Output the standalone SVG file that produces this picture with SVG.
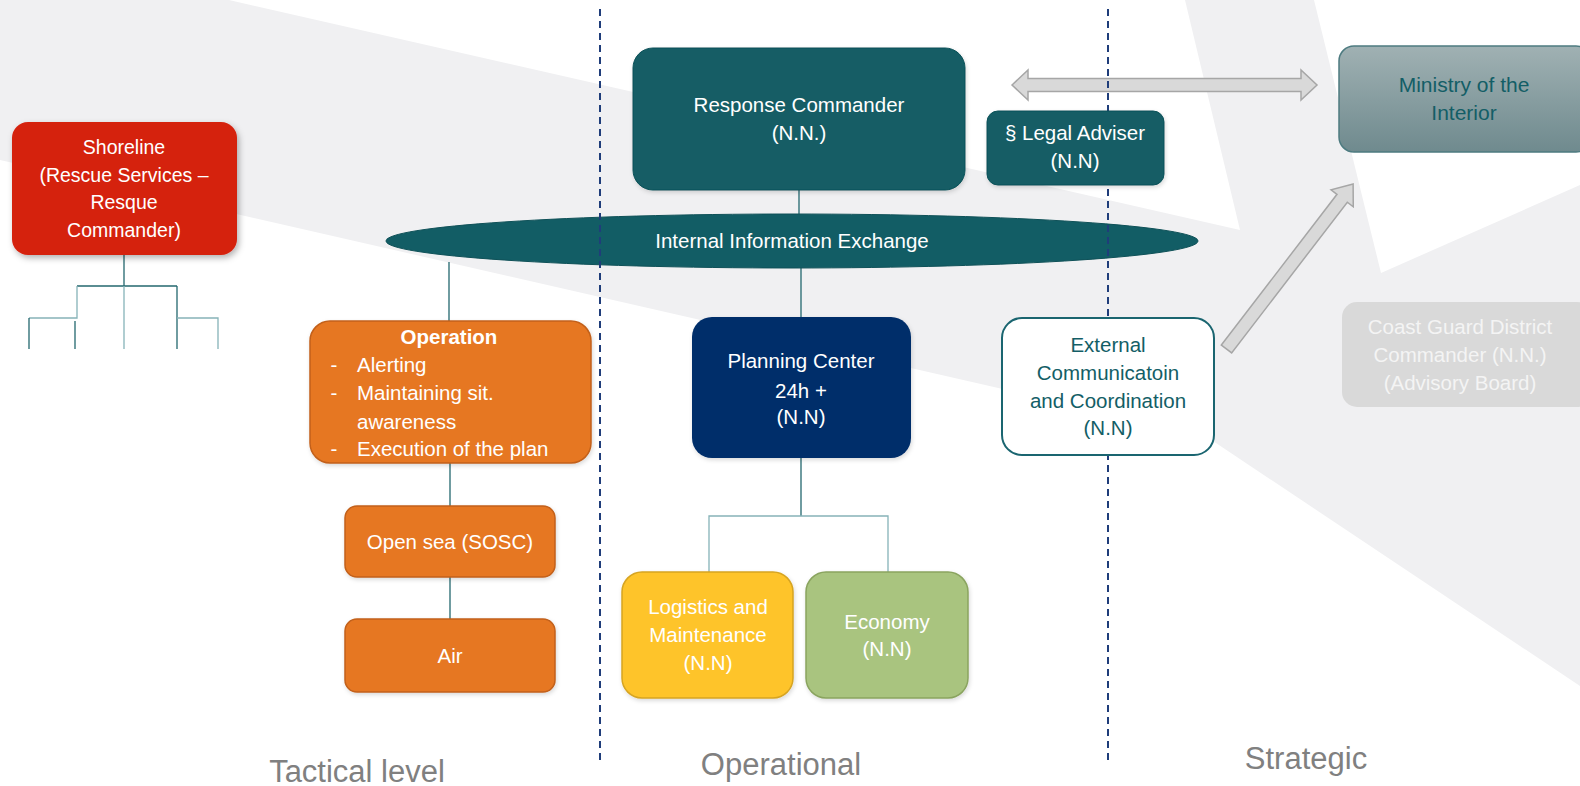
<svg xmlns="http://www.w3.org/2000/svg" width="1580" height="786" viewBox="0 0 1580 786">
<defs>
<linearGradient id="minGrad" x1="0" y1="0" x2="0" y2="1">
<stop offset="0" stop-color="#a0b1b3"/>
<stop offset="1" stop-color="#6f8a8e"/>
</linearGradient>
<filter id="shadow" x="-10%" y="-10%" width="125%" height="130%">
<feDropShadow dx="2" dy="3" stdDeviation="3" flood-color="#000" flood-opacity="0.3"/>
</filter>
<filter id="soft" x="-10%" y="-10%" width="125%" height="130%">
<feDropShadow dx="1" dy="2" stdDeviation="2" flood-color="#000" flood-opacity="0.15"/>
</filter>
</defs>
<style>
text{font-family:"Liberation Sans",Arial,sans-serif;font-size:20.5px;text-anchor:middle}
.w{fill:#ffffff}
.t{fill:#135e66}
.lvl{fill:#808080;font-size:31px}
.conn{stroke:#23676e;stroke-width:1.3;fill:none}
.connl{stroke:#86b3b8;stroke-width:1.3;fill:none}
.dash{stroke:#1f3d7a;stroke-width:2;stroke-dasharray:7 5;fill:none}
.arrow{fill:#d9d9d9;stroke:#a6a6a6;stroke-width:1.5}
.teal{fill:#125d65;stroke:#0f5158;stroke-width:1}
.orange{fill:#e67722;stroke:#c2601a;stroke-width:1.5}
</style>
<rect width="1580" height="786" fill="#ffffff"/>
<polygon points="0,0 229,0 1240,230 1185,0 1314,0 1381,273 1580,185 1580,686 1204,435 0,160" fill="#f0f0f2"/>

<g id="connectors">
<line class="conn" x1="124" y1="255" x2="124" y2="286"/>
<line class="conn" x1="77" y1="286" x2="177" y2="286"/>
<line class="connl" x1="124" y1="286" x2="124" y2="349"/>
<polyline class="connl" points="77,286 77,318 29,318"/>
<line class="conn" x1="29" y1="318" x2="29" y2="349"/>
<line class="conn" x1="75" y1="321" x2="75" y2="349"/>
<line class="conn" x1="177" y1="286" x2="177" y2="349"/>
<polyline class="connl" points="177,318 218,318 218,349"/>
<line class="conn" x1="799" y1="190" x2="799" y2="216"/>
<line class="conn" x1="449" y1="262" x2="449" y2="321"/>
<line class="conn" x1="450" y1="463" x2="450" y2="506"/>
<line class="conn" x1="450" y1="577" x2="450" y2="619"/>
<line class="conn" x1="801" y1="267" x2="801" y2="317"/>
<line class="conn" x1="801" y1="458" x2="801" y2="516"/>
<polyline class="connl" points="709,572 709,516 888,516 888,572"/>
</g>

<g id="internal-exchange">
<ellipse cx="792" cy="241" rx="406" ry="27" class="teal"/>
<text x="792" y="248" class="w">Internal Information Exchange</text>
</g>

<g id="arrows">
<polygon class="arrow" points="1012,85 1028,70 1028,78.5 1301,78.5 1301,70 1317,85 1301,100 1301,91.5 1028,91.5 1028,100"/>
<g transform="translate(1226.5,349) rotate(-52.5)">
<polygon class="arrow" points="0,-6.5 190,-6.5 190,-14 208,0 190,14 190,6.5 0,6.5"/>
</g>
</g>

<g id="level-dividers">
<line class="dash" x1="600" y1="9" x2="600" y2="763"/>
<line class="dash" x1="1108" y1="9" x2="1108" y2="763"/>
</g>

<g id="shoreline">
<rect x="12" y="122" width="225" height="133" rx="16" fill="#d5220f" filter="url(#shadow)"/>
<text x="124" y="154" class="w" style="font-size:19.5px">Shoreline</text>
<text x="124" y="182" class="w" style="font-size:19.5px">(Rescue Services –</text>
<text x="124" y="209" class="w" style="font-size:19.5px">Resque</text>
<text x="124" y="237" class="w" style="font-size:19.5px">Commander)</text>
</g>

<g id="response-commander">
<rect x="633" y="48" width="332" height="142" rx="20" class="teal" filter="url(#soft)"/>
<text x="799" y="112" class="w">Response Commander</text>
<text x="799" y="140" class="w">(N.N.)</text>
</g>

<g id="legal-adviser">
<rect x="987" y="111" width="177" height="74" rx="11" class="teal" filter="url(#soft)"/>
<text x="1075" y="140" class="w">§ Legal Adviser</text>
<text x="1075" y="168" class="w">(N.N)</text>
</g>

<g id="ministry">
<rect x="1339" y="46" width="252" height="106" rx="15" fill="url(#minGrad)" stroke="#4d7b80" stroke-width="1.5"/>
<text x="1464" y="92" class="t" style="font-size:21px">Ministry of the</text>
<text x="1464" y="120" class="t" style="font-size:21px">Interior</text>
</g>

<g id="coast-guard">
<rect x="1342" y="302" width="250" height="105" rx="15" fill="#d9d9d9"/>
<text x="1460" y="334" fill="#f4f4f4">Coast Guard District</text>
<text x="1460" y="362" fill="#f4f4f4">Commander (N.N.)</text>
<text x="1460" y="390" fill="#f4f4f4">(Advisory Board)</text>
</g>

<g id="operation">
<rect x="310" y="321" width="281" height="142" rx="20" class="orange" filter="url(#soft)"/>
<text x="449" y="344" class="w" style="font-weight:bold">Operation</text>
<text x="334" y="372" class="w">-</text>
<text x="357" y="372" class="w" style="text-anchor:start">Alerting</text>
<text x="334" y="400" class="w">-</text>
<text x="357" y="400" class="w" style="text-anchor:start">Maintaining sit.</text>
<text x="357" y="429" class="w" style="text-anchor:start">awareness</text>
<text x="334" y="456" class="w">-</text>
<text x="357" y="456" class="w" style="text-anchor:start">Execution of the plan</text>
</g>

<g id="open-sea">
<rect x="345" y="506" width="210" height="71" rx="12" class="orange" filter="url(#soft)"/>
<text x="450" y="549" class="w">Open sea (SOSC)</text>
</g>

<g id="air">
<rect x="345" y="619" width="210" height="73" rx="12" class="orange" filter="url(#soft)"/>
<text x="450" y="663" class="w">Air</text>
</g>

<g id="planning-center">
<rect x="692" y="317" width="219" height="141" rx="20" fill="#022e6a" filter="url(#soft)"/>
<text x="801" y="368" class="w">Planning Center</text>
<text x="801" y="398" class="w">24h +</text>
<text x="801" y="424" class="w">(N.N)</text>
</g>

<g id="external-communication">
<rect x="1002" y="318" width="212" height="137" rx="20" fill="#ffffff" stroke="#1a6570" stroke-width="2"/>
<text x="1108" y="352" class="t">External</text>
<text x="1108" y="380" class="t">Communicatoin</text>
<text x="1108" y="408" class="t">and Coordination</text>
<text x="1108" y="435" class="t">(N.N)</text>
</g>

<g id="logistics">
<rect x="622" y="572" width="171" height="126" rx="20" fill="#fec42c" stroke="#d6a420" stroke-width="1.5" filter="url(#soft)"/>
<text x="708" y="614" class="w">Logistics and</text>
<text x="708" y="642" class="w">Maintenance</text>
<text x="708" y="670" class="w">(N.N)</text>
</g>

<g id="economy">
<rect x="806" y="572" width="162" height="126" rx="20" fill="#a9c47f" stroke="#8aa45f" stroke-width="1.5" filter="url(#soft)"/>
<text x="887" y="629" class="w">Economy</text>
<text x="887" y="656" class="w">(N.N)</text>
</g>

<g id="level-labels">
<text x="357" y="782" class="lvl">Tactical level</text>
<text x="781" y="775" class="lvl">Operational</text>
<text x="1306" y="769" class="lvl">Strategic</text>
</g>
</svg>
